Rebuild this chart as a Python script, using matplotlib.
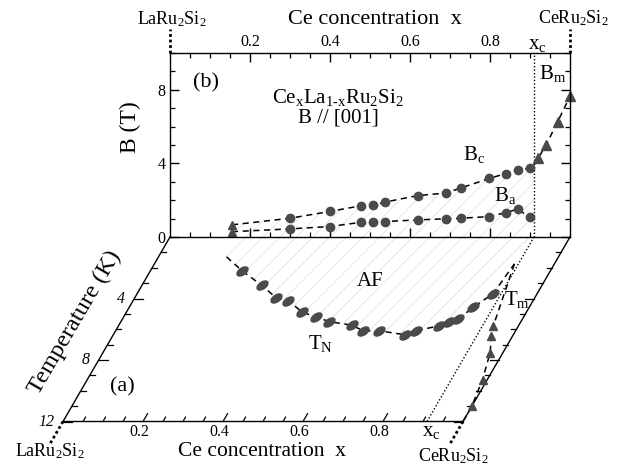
import matplotlib
matplotlib.use('Agg')
import matplotlib.pyplot as plt
import numpy as np
from matplotlib.transforms import Affine2D, offset_copy
from matplotlib.markers import MarkerStyle
from matplotlib.patches import Polygon

plt.rcParams['font.family'] = ['Liberation Serif', 'DejaVu Serif']
plt.rcParams['mathtext.fontset'] = 'custom'
plt.rcParams['mathtext.rm'] = 'Liberation Serif'
plt.rcParams['mathtext.it'] = 'Liberation Serif:italic'
plt.rcParams['hatch.linewidth'] = 0.5

# ---------------- data ----------------
# panel (b): critical fields vs Ce concentration
bc_x = [0.155, 0.30, 0.40, 0.478, 0.507, 0.538, 0.619, 0.689, 0.728, 0.798, 0.84, 0.869, 0.90]
bc_B = [0.66, 1.02, 1.39, 1.70, 1.72, 1.90, 2.25, 2.39, 2.67, 3.18, 3.45, 3.62, 3.76]
ba_x = [0.155, 0.30, 0.40, 0.478, 0.507, 0.538, 0.619, 0.689, 0.728, 0.798, 0.84, 0.869, 0.90]
ba_B = [0.29, 0.44, 0.57, 0.80, 0.79, 0.84, 0.93, 0.99, 1.02, 1.11, 1.33, 1.51, 1.08]
bm_x = [0.921, 0.94, 0.969, 1.0]
bm_B = [4.31, 4.99, 6.26, 7.65]
bm_guide_x = [0.91, 0.921, 0.94, 0.969, 1.0]
bm_guide_B = [3.90, 4.31, 4.99, 6.26, 7.65]

# panel (a): ordering temperatures vs Ce concentration
tn_x = [0.23, 0.30, 0.353, 0.388, 0.44, 0.48, 0.521, 0.582, 0.619, 0.659,
        0.729, 0.751, 0.802, 0.82, 0.84, 0.86, 0.89]
tn_T = [2.21, 3.15, 3.95, 4.13, 4.90, 5.18, 5.51, 5.73, 6.10, 6.10,
        6.36, 6.10, 5.77, 5.55, 5.33, 4.57, 3.69]
tn_guide_x = [0.17] + tn_x + [0.90]
tn_guide_T = [1.29] + tn_T + [1.75]
tm_x = [0.937, 0.947, 0.968, 0.988, 1.0]
tm_T = [5.77, 6.43, 7.52, 9.27, 11.02]
tm_guide_x = [0.90, 0.937, 0.947, 0.968, 0.988, 1.0, 1.0]
tm_guide_T = [1.75, 5.77, 6.43, 7.52, 9.27, 11.02, 12.0]
xc = 0.91

x_major = [0.2, 0.4, 0.6, 0.8]
x_labels = ['0.2', '0.4', '0.6', '0.8']
x_minor = np.round(np.arange(0.05, 1.0, 0.05), 2)
B_major = [0, 4, 8]
B_minor = list(range(0, 11))
T_ticks = list(range(1, 13))
T_labels = [4, 8, 12]

# ---------------- figure ----------------
W, H = 617, 468
fig = plt.figure(figsize=(W / 100, H / 100), dpi=100)

def fx(px):
    return px / W

def fy(py):
    return 1 - py / H

ax = fig.add_axes([fx(170), fy(237), 400 / W, 184 / H])
ax.set_xlim(0, 1)
ax.set_ylim(0, 10)
for s in ax.spines.values():
    s.set_linewidth(1.0)
ax.set_xticks(x_major)
ax.set_xticklabels(x_labels)
ax.set_xticks(x_minor, minor=True)
ax.set_yticks(B_major)
ax.set_yticks(B_minor, minor=True)
ax.tick_params(axis='x', which='both', direction='in', top=True, bottom=True,
               labeltop=True, labelbottom=False, labelsize=11.5, pad=2)
ax.tick_params(axis='y', which='both', direction='in', left=True, right=True,
               labelsize=11.5, pad=3)
ax.tick_params(which='major', length=6.5, width=1.0)
ax.tick_params(which='minor', length=3.5, width=0.9)

dark = '#4a4a4a'
dash = (0, (4, 3))
hatch_col = '#dcdcdc'

# hatched AF region in (b)
poly_b = np.column_stack([bc_x + [xc, xc, bc_x[0]], bc_B + [3.85, 0, 0]])
ax.add_patch(Polygon(poly_b, closed=True, fill=False, hatch='//',
                     edgecolor=hatch_col, linewidth=0, zorder=0))

# xc dotted line (b)
ax.plot([xc, xc], [0, 10], color='k', ls=(0, (1, 1.5)), lw=1.0, clip_on=False)

# B_c, B_a, B_m
ax.plot(bc_x, bc_B, color='k', ls=dash, lw=1.1)
ax.plot(ba_x, ba_B, color='k', ls=dash, lw=1.1)
ax.plot(bm_guide_x, bm_guide_B, color='k', ls=dash, lw=1.1, clip_on=False)
ax.plot(bc_x[1:], bc_B[1:], 'o', color=dark, ms=6, ls='none')
ax.plot(ba_x[1:], ba_B[1:], 'o', color=dark, ms=6, ls='none')
ax.plot(bc_x[:1], bc_B[:1], '^', color=dark, ms=6, ls='none')
ax.plot(ba_x[:1], ba_B[:1], '^', color=dark, ms=6, ls='none')
ax.plot(bm_x, bm_B, '^', color=dark, ms=6.5, ls='none', clip_on=False)

# end dotted markers LaRu2Si2 / CeRu2Si2 (b)
ax.plot([0, 0], [10, 11.3], color='k', ls=(0, (1, 1)), lw=2.0, clip_on=False)
ax.plot([1, 1], [10, 11.3], color='k', ls=(0, (1, 1)), lw=2.0, clip_on=False)

# ---------------- panel (a): sheared plane ----------------
px_per_x = 400.0
shear = Affine2D(np.array([[1.0, -8.917 / px_per_x, 0.0],
                           [0.0, -15.25 / 18.25, 0.0],
                           [0.0, 0.0, 1.0]]))
tr_a = shear + ax.transData

# frame
ax.plot([0, 0, 1, 1], [0, 12, 12, 0], color='k', lw=1.0, transform=tr_a,
        clip_on=False)
ax.plot([0, 0], [12, 13.4], color='k', ls=(0, (1, 1)), lw=2.0, transform=tr_a,
        clip_on=False)
ax.plot([1, 1], [12, 13.4], color='k', ls=(0, (1, 1)), lw=2.0, transform=tr_a,
        clip_on=False)

# ticks on slanted edges (horizontal) and bottom edge (slanted)
for T in T_ticks:
    L = (9 if T % 4 == 0 else 5) / px_per_x
    ax.plot([0, L], [T, T], color='k', lw=0.9, transform=tr_a, clip_on=False)
    ax.plot([1, 1 - L], [T, T], color='k', lw=0.9, transform=tr_a, clip_on=False)
step_len = np.hypot(8.917, 15.25)
for xv in x_minor:
    L = (9 if any(abs(xv - m) < 1e-6 for m in x_major) else 5) / step_len
    ax.plot([xv, xv], [12, 12 - L], color='k', lw=0.9, transform=tr_a,
            clip_on=False)

# hatched AF region (a)
poly_a = np.column_stack([tn_guide_x + [tn_guide_x[-1], tn_guide_x[0]],
                          tn_guide_T + [0, 0]])
ax.add_patch(Polygon(poly_a, closed=True, fill=False, hatch='//',
                     edgecolor=hatch_col, linewidth=0, zorder=0,
                     transform=tr_a, clip_on=False))

# xc dotted line (a)
ax.plot([xc, xc], [0, 12], color='k', ls=(0, (1, 1.5)), lw=1.0,
        transform=tr_a, clip_on=False)

# T_N and T_m
ell = MarkerStyle('o', transform=Affine2D().scale(1.0, 0.55).rotate_deg(35))
ax.plot(tn_guide_x, tn_guide_T, color='k', ls=dash, lw=1.1, transform=tr_a,
        clip_on=False)
ax.plot(tn_x, tn_T, ls='none', marker=ell, color=dark, ms=9, transform=tr_a,
        clip_on=False)
ax.plot(tm_guide_x, tm_guide_T, color='k', ls=dash, lw=1.1, transform=tr_a,
        clip_on=False)
ax.plot(tm_x, tm_T, '^', color=dark, ms=6, ls='none', transform=tr_a,
        clip_on=False)

# tick labels of (a)
tr_xl = offset_copy(tr_a, fig=fig, x=-4, y=-10, units='dots')
for xv, lab in zip(x_major, x_labels):
    ax.text(xv, 12, lab, transform=tr_xl, ha='center', va='center',
            fontsize=11.5)
ax.text(0.93, 12, r'x$_\mathrm{c}$', transform=tr_xl, ha='center', va='center',
        fontsize=15)
tr_tl = offset_copy(tr_a, fig=fig, x=-9, y=0, units='dots')
for T in T_labels:
    ax.text(0, T, str(T), transform=tr_tl, ha='right', va='center',
            fontsize=11.5, style='italic')

# ---------------- texts ----------------
def t(px, py, s, size, **kw):
    fig.text(fx(px), fy(py), s, fontsize=size, ha='center', va='center', **kw)

t(375, 19, 'Ce concentration  x', 16)
t(172, 19, r'LaRu$_2$Si$_2$', 13)
t(573, 18, r'CeRu$_2$Si$_2$', 13)
t(537, 44, r'x$_\mathrm{c}$', 15)
t(130, 127, 'B (T)', 17, rotation=90)
t(206, 83, '(b)', 16)
t(338, 97, r'Ce$_\mathrm{x}$La$_\mathrm{1\text{-}x}$Ru$_2$Si$_2$', 15)
t(338, 118, 'B // [001]', 15)
t(474, 155, r'B$_\mathrm{c}$', 15)
t(505, 195, r'B$_\mathrm{a}$', 15)
t(553, 73, r'B$_\mathrm{m}$', 15)

t(370, 281, 'AF', 15)
t(321, 344, r'T$_\mathrm{N}$', 15)
t(517, 299, r'T$_\mathrm{m}$', 15)
t(122, 387, '(a)', 16)
t(75, 322, 'Temperature (K)', 17.5, rotation=59.7)
t(262, 452, 'Ce concentration  x', 15.5)
t(50, 451, r'LaRu$_2$Si$_2$', 13)
t(453, 456, r'CeRu$_2$Si$_2$', 13)

fig.savefig('out.png', dpi=100)
